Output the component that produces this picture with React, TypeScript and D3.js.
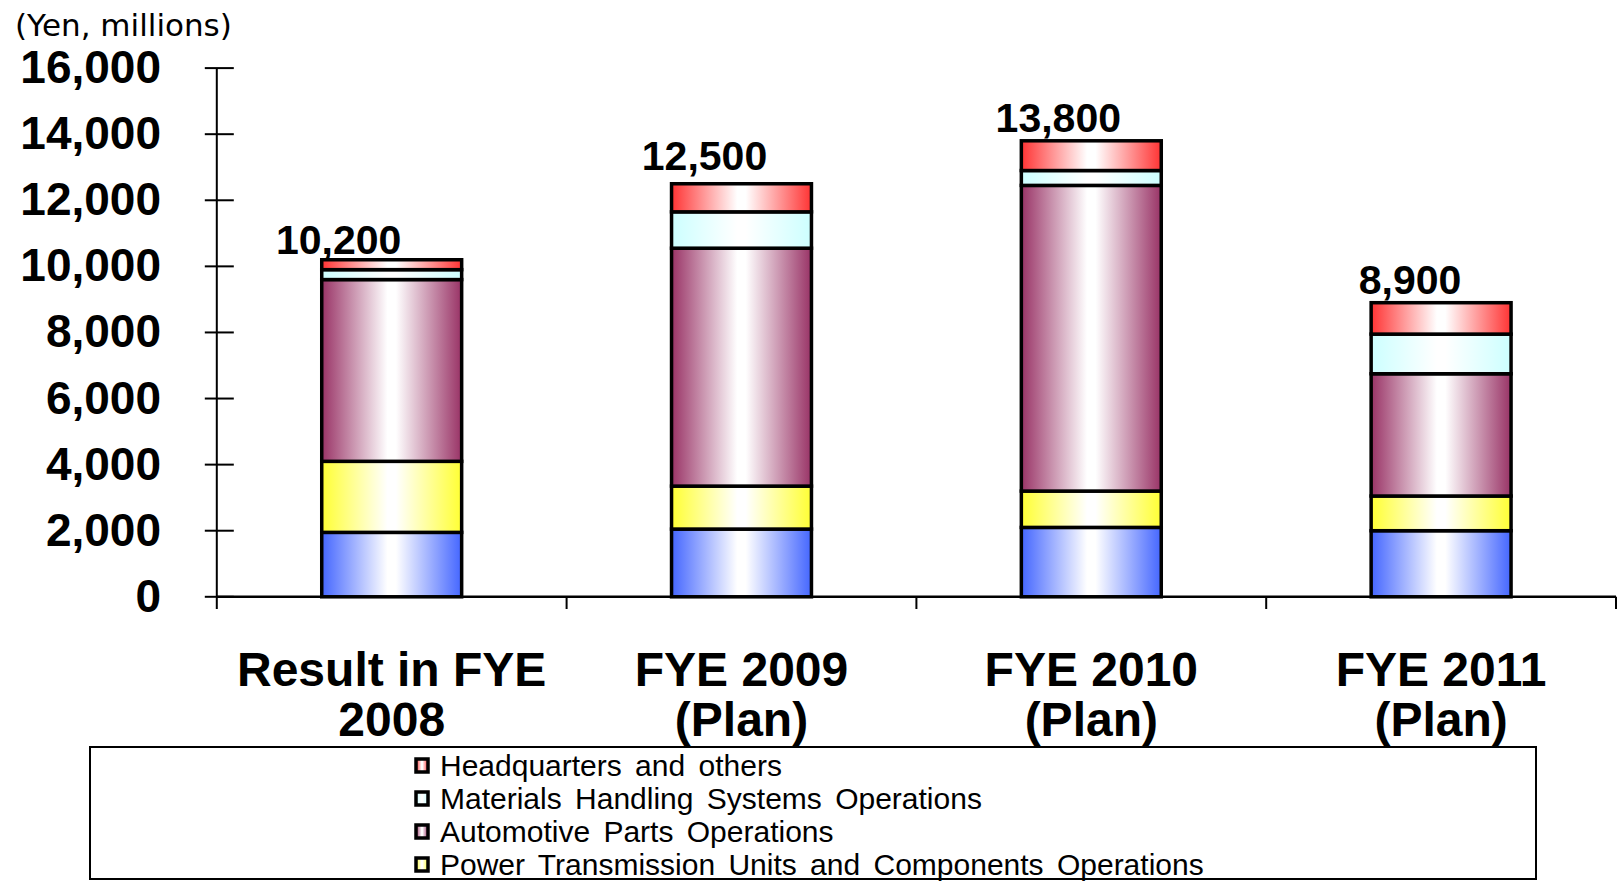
import React, { useRef, useEffect } from 'react';
import * as d3 from 'd3';

// categories (two lines each under the axis)
const categories = ['Result in FYE 2008', 'FYE 2009 (Plan)', 'FYE 2010 (Plan)', 'FYE 2011 (Plan)'];
const categoryLines = [
  ['Result in FYE', '2008'],
  ['FYE 2009', '(Plan)'],
  ['FYE 2010', '(Plan)'],
  ['FYE 2011', '(Plan)'],
];

// stacked segments, bottom to top (Yen, millions)
const bottomSegment = [1950, 2050, 2100, 2000]; // blue, legend entry cut off in the picture
const powerTransmission = [2150, 1300, 1100, 1050];
const automotiveParts = [5500, 7200, 9250, 3700];
const materialsHandling = [300, 1100, 450, 1200];
const headquarters = [300, 850, 900, 950];
const totals = [10200, 12500, 13800, 8900];

const yTicks = [0, 2000, 4000, 6000, 8000, 10000, 12000, 14000, 16000];

const seriesKeys = ['bottom', 'power', 'auto', 'mh', 'hq'];
const seriesColors = ['#4466ff', '#ffff33', '#993366', '#ccffff', '#ff3333'];
const legendItems = [
  { key: 'hq', label: 'Headquarters and others' },
  { key: 'mh', label: 'Materials Handling Systems Operations' },
  { key: 'auto', label: 'Automotive Parts Operations' },
  { key: 'power', label: 'Power Transmission Units and Components Operations' },
];

// label nudges relative to bar centre / bar top
const labelDx = [-53, -37, -33, -31];
const labelDy = [-6, -14, -9, -9];

const W = 1619;
const H = 881;

function StackedChart() {
  const ref = useRef<SVGSVGElement | null>(null);

  useEffect(() => {
    const svg = d3.select(ref.current);
    svg.selectAll('*').remove();

    const rows = categories.map((c, i) => ({
      cat: c,
      bottom: bottomSegment[i],
      power: powerTransmission[i],
      auto: automotiveParts[i],
      mh: materialsHandling[i],
      hq: headquarters[i],
    }));

    const x = d3.scaleBand().domain(categories).range([216.8, 1616]).padding(0);
    const y = d3.scaleLinear().domain([0, 16000]).range([596.8, 68.1]);
    const barW = x.bandwidth() * 0.4;

    const defs = svg.append('defs');
    seriesKeys.forEach((k, i) => {
      const g = defs
        .append('linearGradient')
        .attr('id', 'grad-' + k)
        .attr('x1', 0)
        .attr('x2', 1)
        .attr('y1', 0)
        .attr('y2', 0);
      g.append('stop').attr('offset', '0%').attr('stop-color', seriesColors[i]);
      g.append('stop').attr('offset', '47%').attr('stop-color', '#ffffff');
      g.append('stop').attr('offset', '53%').attr('stop-color', '#ffffff');
      g.append('stop').attr('offset', '100%').attr('stop-color', seriesColors[i]);
    });

    svg.append('rect').attr('width', W).attr('height', H).attr('fill', '#ffffff');

    // y axis unit
    svg
      .append('text')
      .attr('x', 15)
      .attr('y', 36)
      .attr('font-family', '"DejaVu Sans", Verdana, sans-serif')
      .attr('font-size', 31)
      .text('(Yen, millions)');

    // y axis
    const axisX = x.range()[0];
    svg
      .append('line')
      .attr('x1', axisX)
      .attr('x2', axisX)
      .attr('y1', y(16000))
      .attr('y2', 609)
      .attr('stroke', '#000')
      .attr('stroke-width', 2);

    svg
      .selectAll('.ytick')
      .data(yTicks)
      .enter()
      .append('line')
      .attr('x1', axisX - 12)
      .attr('x2', axisX + 17)
      .attr('y1', (d) => y(d))
      .attr('y2', (d) => y(d))
      .attr('stroke', '#000')
      .attr('stroke-width', 2);

    svg
      .selectAll('.ylabel')
      .data(yTicks)
      .enter()
      .append('text')
      .attr('x', 161)
      .attr('y', (d) => y(d) + 15)
      .attr('text-anchor', 'end')
      .attr('font-family', '"Liberation Sans", Arial, sans-serif')
      .attr('font-weight', 'bold')
      .attr('font-size', 46)
      .text((d) => d3.format(',')(d));

    // stacked bars
    const stacked = d3.stack<any>().keys(seriesKeys)(rows);
    stacked.forEach((layer) => {
      svg
        .append('g')
        .selectAll('rect')
        .data(layer)
        .enter()
        .append('rect')
        .attr('x', (d: any) => (x(d.data.cat) as number) + x.bandwidth() / 2 - barW / 2)
        .attr('y', (d: any) => y(d[1]))
        .attr('width', barW)
        .attr('height', (d: any) => y(d[0]) - y(d[1]))
        .attr('fill', `url(#grad-${layer.key})`)
        .attr('stroke', '#000')
        .attr('stroke-width', 3.5);
    });

    // x axis
    svg
      .append('line')
      .attr('x1', axisX)
      .attr('x2', x.range()[1])
      .attr('y1', y(0))
      .attr('y2', y(0))
      .attr('stroke', '#000')
      .attr('stroke-width', 2.5);

    svg
      .selectAll('.xtick')
      .data(categories)
      .enter()
      .append('line')
      .attr('x1', (d) => (x(d) as number) + x.bandwidth())
      .attr('x2', (d) => (x(d) as number) + x.bandwidth())
      .attr('y1', y(0))
      .attr('y2', 609)
      .attr('stroke', '#000')
      .attr('stroke-width', 2);

    // totals
    svg
      .selectAll('.total')
      .data(totals)
      .enter()
      .append('text')
      .attr('x', (d, i) => (x(categories[i]) as number) + x.bandwidth() / 2 + labelDx[i])
      .attr('y', (d, i) => y(d) + labelDy[i])
      .attr('text-anchor', 'middle')
      .attr('font-family', '"Liberation Sans", Arial, sans-serif')
      .attr('font-weight', 'bold')
      .attr('font-size', 41)
      .text((d) => d3.format(',')(d));

    // category labels
    categories.forEach((c, i) => {
      const t = svg
        .append('text')
        .attr('text-anchor', 'middle')
        .attr('font-family', '"Liberation Sans", Arial, sans-serif')
        .attr('font-weight', 'bold')
        .attr('font-size', 48);
      categoryLines[i].forEach((ln, j) => {
        t.append('tspan')
          .attr('x', (x(c) as number) + x.bandwidth() / 2)
          .attr('y', 686 + j * 50)
          .text(ln);
      });
    });

    // legend
    const lg = svg.append('g');
    lg.append('rect')
      .attr('x', 90)
      .attr('y', 747)
      .attr('width', 1446)
      .attr('height', 132)
      .attr('fill', '#ffffff')
      .attr('stroke', '#000')
      .attr('stroke-width', 2);
    legendItems.forEach((it, i) => {
      const cy = 766 + i * 33;
      lg.append('rect')
        .attr('x', 416)
        .attr('y', cy - 7)
        .attr('width', 12)
        .attr('height', 13)
        .attr('fill', `url(#grad-${it.key})`)
        .attr('stroke', '#000')
        .attr('stroke-width', 3.5);
      lg.append('text')
        .attr('x', 440)
        .attr('y', cy + 10)
        .attr('font-family', '"Liberation Sans", Arial, sans-serif')
        .attr('font-size', 30)
        .attr('word-spacing', 5)
        .text(it.label);
    });
  }, []);

  return (
    <svg
      ref={ref}
      width={W}
      height={H}
      style={{ position: 'absolute', left: 0, top: 0, display: 'block' }}
    ></svg>
  );
}

export default function App() {
  return <StackedChart />;
}
